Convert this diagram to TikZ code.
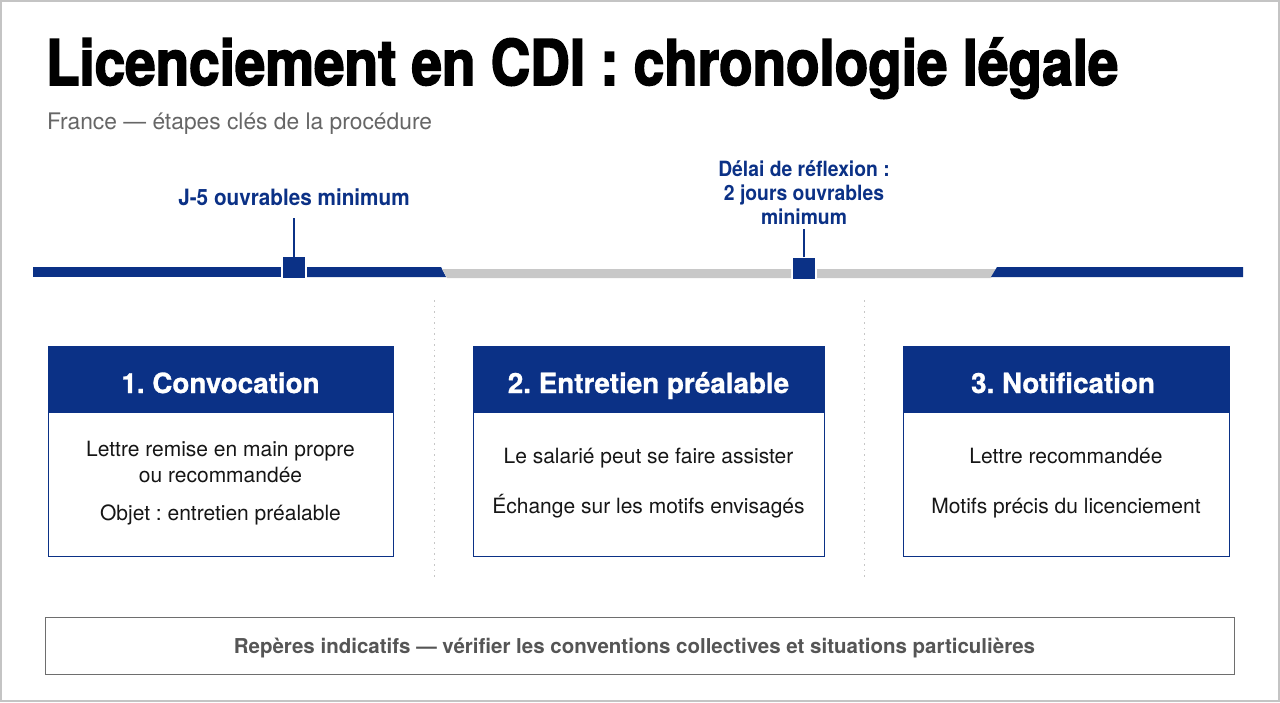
\documentclass[tikz,border=0pt]{standalone}
\usepackage{fontspec}
\setmainfont{TeX Gyre Heros}
\newfontfamily\titlefont{TeX Gyre Heros}[FakeStretch=0.87, BoldFeatures={FakeBold=2.5}]
\newfontfamily\headfont{TeX Gyre Heros}[BoldFeatures={FakeBold=1}]
\newfontfamily\labfont{TeX Gyre Heros}[FakeStretch=0.92]
\definecolor{navy}{HTML}{0B3186}
\definecolor{bargray}{HTML}{C8C8C8}
\definecolor{framegray}{HTML}{C4C4C4}
\definecolor{subgray}{HTML}{666666}
\definecolor{footgray}{HTML}{555555}
\definecolor{footline}{HTML}{6E6E6E}
\definecolor{ink}{HTML}{161616}
\definecolor{dotgray}{HTML}{C6C6C6}
\tikzset{
  txt/.style={inner sep=0pt, outer sep=0pt, anchor=base},
  marker/.style={fill=navy, minimum width=22, minimum height=21, inner sep=0pt},
  boxbody/.style={draw=navy, line width=1.3pt, fill=white, inner sep=0pt, anchor=north west, minimum width=345, minimum height=210},
  boxhead/.style={fill=navy, inner sep=0pt, anchor=north west, minimum height=67},
  headtxt/.style={txt, text=white, font=\headfont\bfseries\fontsize{27.8}{28}\selectfont},
  bodytxt/.style={txt, text=ink, font=\fontsize{21}{24}\selectfont},
  lab/.style={txt, text=navy, font=\labfont\bfseries\fontsize{21}{24}\selectfont},
  tick/.style={draw=navy, line width=1.5pt},
  sep/.style={draw=dotgray, line width=1pt, dash pattern=on 1.5pt off 4pt}
}
\frenchspacing
\begin{document}
\begin{tikzpicture}[x=1pt,y=-1pt]
\useasboundingbox (0,0) rectangle (1280,702);
\fill[white] (0,0) rectangle (1280,702);
\draw[framegray, line width=2pt] (1,1) rectangle (1279,701);

% title
\node[txt, anchor=base west] (title) at (46,85) {\titlefont\bfseries\fontsize{63}{63}\selectfont Licenciement en CDI : chronologie légale};
\node[txt, anchor=base west, text=subgray] (subtitle) at (47,129) {\fontsize{22.8}{24}\selectfont France — étapes clés de la procédure};

% timeline
\fill[navy] (33,267) rectangle (281,277);
\fill[navy] (307,267) -- (441,267) -- (446,277) -- (307,277) -- cycle;
\fill[bargray] (442,269) -- (791,269) -- (791,278) -- (447,278) -- cycle;
\fill[bargray] (817,269) -- (996,269) -- (991,278) -- (817,278) -- cycle;
\fill[navy] (997,267) -- (1243,267) -- (1243,277) -- (991,277) -- cycle;
\node[marker] (m1) at (294,267.5) {};
\node[marker] (m2) at (804,268) {};
\coordinate (t1) at (294,218);
\coordinate (t2) at (804,229);
\draw[tick] (m1.north) -- (t1);
\draw[tick] (m2.north) -- (t2);
\node[lab, font=\labfont\bfseries\fontsize{22.5}{24}\selectfont] (l1) at (294,205) {J-5 ouvrables minimum};
\node[lab] (l2a) at (804,176) {Délai de réflexion :};
\node[lab] (l2b) at (804,200) {2 jours ouvrables};
\node[lab] (l2c) at (804,224) {minimum};

% separators
\draw[sep] (434,300) -- (434,580);
\draw[sep] (864,300) -- (864,580);

% box 1
\node[boxbody] (b1) at (48,346) {};
\node[boxhead, minimum width=345] (h1) at (48,346) {};
\node[headtxt] (h1t) at (220.5,393) {1. Convocation};
\node[bodytxt] (b1a) at (220.5,456) {Lettre remise en main propre};
\node[bodytxt] (b1b) at (220.5,482) {ou recommandée};
\node[bodytxt] (b1c) at (220.5,520) {Objet : entretien préalable};

% box 2
\node[boxbody, minimum width=351] (b2) at (473,346) {};
\node[boxhead, minimum width=351] (h2) at (473,346) {};
\node[headtxt] (h2t) at (648.5,393) {2. Entretien préalable};
\node[bodytxt] (b2a) at (648.5,463) {Le salarié peut se faire assister};
\node[bodytxt] (b2b) at (648.5,513) {Échange sur les motifs envisagés};

% box 3
\node[boxbody, minimum width=326] (b3) at (903,346) {};
\node[boxhead, minimum width=326] (h3) at (903,346) {};
\node[headtxt] (h3t) at (1063,393) {3. Notification};
\node[bodytxt] (b3a) at (1066,463) {Lettre recommandée};
\node[bodytxt] (b3b) at (1066,513) {Motifs précis du licenciement};

% footer
\node[draw=footline, line width=1.3pt, fill=white, anchor=north west, minimum width=1189, minimum height=57, inner sep=0pt] (foot) at (45,617) {};
\node[txt, text=footgray, font=\bfseries\fontsize{20.5}{22}\selectfont] (foottxt) at (634.5,653) {Repères indicatifs — vérifier les conventions collectives et situations particulières};
\end{tikzpicture}
\end{document}
